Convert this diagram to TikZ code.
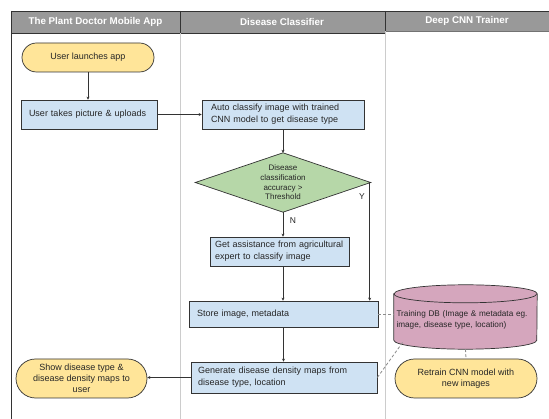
\documentclass[tikz,border=0pt]{standalone}
\usepackage{fontspec}
\setmainfont{Liberation Sans}
\usetikzlibrary{arrows.meta,calc}
\definecolor{yellowF}{HTML}{FFE599}
\definecolor{blueF}{HTML}{CFE2F3}
\definecolor{greenF}{HTML}{B6D7A8}
\definecolor{pinkF}{HTML}{D5A6BD}
\definecolor{hdrF}{HTML}{999999}
\definecolor{edge}{HTML}{333333}
\definecolor{laneL}{HTML}{CCCCCC}
\tikzset{
  hdr/.style={font=\bfseries\fontsize{9.8}{11}\selectfont, text=white},
  proc/.style={draw=edge, fill=blueF, line width=0.7pt, align=left, inner sep=0pt,
    font=\fontsize{9}{12}\selectfont, text=black!85},
  term/.style={draw=edge, fill=yellowF, line width=0.7pt, align=center, inner sep=0pt,
    font=\fontsize{9}{11}\selectfont, text=black!85},
  flow/.style={draw=black!80, line width=0.6pt, -{Stealth[length=3pt,width=3pt]}},
  link/.style={draw=black!45, line width=0.8pt, dash pattern=on 3pt off 2pt},
  lbl/.style={font=\fontsize{8.5}{10}\selectfont, text=black!85, inner sep=0pt}
}
\begin{document}
\begin{tikzpicture}[x=1pt,y=-1pt]
\useasboundingbox (0,0) rectangle (549,419);
\fill[white] (0,0) rectangle (549,419);
% header
\fill[hdrF] (11,11) rectangle (385,33);
\fill[hdrF] (385,11) rectangle (549,31);
\draw[edge, line width=0.9pt] (11,11) -- (549,11);
\draw[edge, line width=0.9pt] (11,33) -- (385,33);
\draw[black!55, line width=0.6pt] (385,31) -- (549,31);
\draw[edge, line width=0.9pt] (180,11) -- (180,33);
\draw[edge, line width=0.9pt] (385,11) -- (385,31);
% lanes
\draw[laneL, line width=0.9pt] (180,33) -- (180,419);
\draw[laneL, line width=0.9pt] (385,31) -- (385,419);
\draw[edge, line width=1.1pt] (11.5,11) -- (11.5,419);
\node[hdr] (h1) at (95.5,22) {The Plant Doctor Mobile App};
\node[hdr] (h2) at (282,22) {Disease Classifier};
\node[hdr] (h3) at (467,21) {Deep CNN Trainer};

% nodes
\node[term, minimum width=132pt, minimum height=29pt, rounded corners=14.5pt] (launch) at (88,57.5) {User launches app};
\node[proc, minimum width=136pt, minimum height=29pt, text width=120pt] (take) at (89,114.5) {User takes picture \& uploads};
\node[proc, minimum width=162pt, minimum height=29pt, text width=144pt] (auto) at (283,114.5) {Auto classify image with trained\\CNN model to get disease type};
\node[inner sep=0pt, minimum width=175pt, minimum height=59pt] (d) at (283,182.5) {};
\draw[edge, fill=greenF, line width=0.7pt] (d.north) -- (d.east) -- (d.south) -- (d.west) -- cycle;
\node[align=center, font=\fontsize{8}{9.6}\selectfont, text=black!85] (dt) at (d.center) {Disease\\classification\\accuracy >\\Threshold};
\node[proc, minimum width=139pt, minimum height=29pt, text width=129pt] (assist) at (279.5,251.5) {Get assistance from agricultural\\expert to classify image};
\node[proc, minimum width=189pt, minimum height=26pt, text width=173pt] (store) at (283.5,314) {Store image, metadata};
\node[proc, minimum width=186pt, minimum height=31pt, text width=172pt] (gen) at (284,377.5) {Generate disease density maps from\\disease type, location};
\node[term, minimum width=131pt, minimum height=39pt, rounded corners=19.5pt] (show) at (81.5,378.5) {Show disease type \&\\disease density maps to\\user};
\node[term, minimum width=142pt, minimum height=39pt, rounded corners=19.5pt] (retrain) at (466,378.5) {Retrain CNN model with\\new images};
% database cylinder
\node[inner sep=0pt, minimum width=143pt, minimum height=64pt] (db) at (465.5,317) {};
\path[fill=pinkF, draw=edge, line width=0.7pt]
  ($(db.north west)+(0,9)$) -- ($(db.south west)+(0,-9)$)
  arc[start angle=180, end angle=360, x radius=71.5pt, y radius=9pt]
  -- ($(db.north east)+(0,9)$)
  arc[start angle=0, end angle=180, x radius=71.5pt, y radius=9pt] -- cycle;
\draw[edge, line width=0.7pt] ($(db.north west)+(0,9)$)
  arc[start angle=180, end angle=360, x radius=71.5pt, y radius=9pt];
\node[align=left, text width=138pt, inner sep=0pt, font=\fontsize{8.2}{10.5}\selectfont, text=black!85] (dbt) at ($(db.center)+(0,3)$) {Training DB (Image \& metadata eg.\\image, disease type, location)};
\coordinate (dbp) at ($(db.south west)+(9,-7)$);

% connectors
\draw[flow] (launch.south) -- (launch.south |- take.north);
\draw[flow] (take.east) -- (auto.west);
\draw[flow] (auto.south) -- (d.north);
\draw[flow] (d.south) -- (d.south |- assist.north);
\draw[flow] (d.south |- assist.south) -- (d.south |- store.north);
\draw[flow] ($(d.east)+(-1,0)$) -- ($(d.east |- store.north)+(-1,0)$);
\draw[flow] (store.south) -- (store.south |- gen.north);
\draw[flow] (gen.west) -- (gen.west -| show.east);
\node[lbl] (ylab) at (362,197) {Y};
\node[lbl] (nlab) at (293,221) {N};
\draw[link] (store.east) -- (store.east -| db.west);
\draw[link] (gen.east) -- (dbp);
\draw[link] (db.south) -- (retrain.north);
\end{tikzpicture}
\end{document}
